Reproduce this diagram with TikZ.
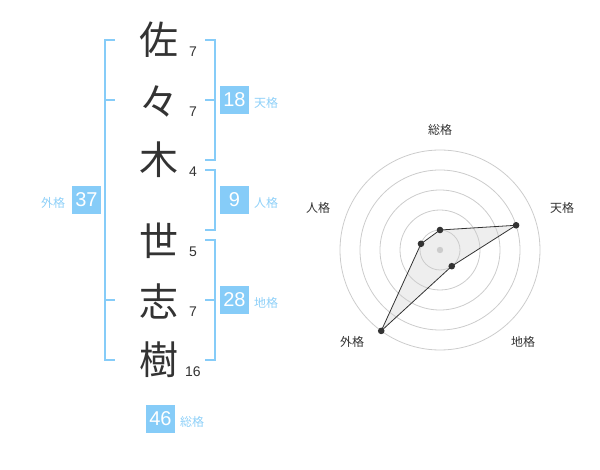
\documentclass[tikz,border=0pt]{standalone}
\usepackage{fontspec}
\setmainfont{Liberation Sans}
\newfontfamily\jp{Noto Sans CJK JP}
\definecolor{kaku}{HTML}{86CCF8}
\definecolor{kakumoji}{HTML}{8ED0F8}
\definecolor{sumi}{HTML}{333333}
\definecolor{wa}{HTML}{CCCCCC}
\definecolor{nuri}{HTML}{EEEEEE}

\begin{document}
\begin{tikzpicture}[
				x=1pt,y=-1pt,
				every node/.style={inner sep=0pt},
				moji/.style={font=\jp\fontsize{39}{39}\selectfont, text=sumi},
				kakusu/.style={font=\fontsize{14}{14}\selectfont, text=sumi},
				kakubox/.style={fill=kaku, text=white, minimum width=29pt, minimum height=28pt, font=\fontsize{20}{20}\selectfont},
				kakumei/.style={font=\jp\fontsize{12}{12}\selectfont, text=kakumoji},
				kakko/.style={draw=kaku, line width=2pt},
				ten/.style={circle, fill=sumi, minimum size=6.6pt},
			]
			\useasboundingbox (0,0) rectangle (600,470);

			\node[moji] (sa) at (159,40) {佐};
			\node[moji] (noma) at (159,101) {々};
			\node[moji] (ki) at (159,160) {木};
			\node[moji] (se) at (159,241) {世};
			\node[moji] (shi) at (159,301) {志};
			\node[moji] (ju) at (159,360) {樹};

			\node[kakusu] (sa-n) at (193,52) {7};
			\node[kakusu] (noma-n) at (193,112) {7};
			\node[kakusu] (ki-n) at (193,172) {4};
			\node[kakusu] (se-n) at (193,252) {5};
			\node[kakusu] (shi-n) at (193,312) {7};
			\node[kakusu] (ju-n) at (193,372) {16};

			\draw[kakko] (115,40) -- (105,40) -- (105,360) -- (115,360);
			\draw[kakko] (105,100) -- (115,100);
			\draw[kakko] (105,300) -- (115,300);
			\draw[kakko] (205,40) -- (215,40) -- (215,160) -- (205,160);
			\draw[kakko] (205,100) -- (215,100);
			\draw[kakko] (205,170) -- (215,170) -- (215,230) -- (205,230);
			\draw[kakko] (205,240) -- (215,240) -- (215,360) -- (205,360);
			\draw[kakko] (205,300) -- (215,300);

			\node[kakubox] (gaikaku) at (86.5,200) {37};
			\node[kakumei] (gaikaku-l) at (53,203) {外格};
			\node[kakubox] (tenkaku) at (234.5,100) {18};
			\node[kakumei] (tenkaku-l) at (266,103) {天格};
			\node[kakubox] (jinkaku) at (234.5,200) {9};
			\node[kakumei] (jinkaku-l) at (266,203) {人格};
			\node[kakubox] (chikaku) at (234.5,300) {28};
			\node[kakumei] (chikaku-l) at (266,303) {地格};
			\node[kakubox] (soukaku) at (160.5,419) {46};
			\node[kakumei] (soukaku-l) at (192,422) {総格};

			\begin{scope}[shift={(440,250)}, yscale=-1]
				\coordinate (r-sou) at (90:20);
				\coordinate (r-ten) at (18:80);
				\coordinate (r-chi) at (-54:20);
				\coordinate (r-gai) at (-126:100);
				\coordinate (r-jin) at (162:20);
				\fill[nuri] (r-sou) -- (r-ten) -- (r-chi) -- (r-gai) -- (r-jin) -- cycle;
				\foreach \r in {20,40,...,100}
					\draw[wa, line width=0.8pt] (0,0) circle (\r);
				\fill[wa] (0,0) circle (3.2);
				\draw[sumi, line width=0.8pt] (r-sou) -- (r-ten) -- (r-chi) -- (r-gai) -- (r-jin) -- cycle;
				\foreach \p in {sou,ten,chi,gai,jin}
					\node[ten] (d-\p) at (r-\p) {};
			\end{scope}

			\node[kakumei, text=sumi] (l-sou) at (440,130) {総格};
			\node[kakumei, text=sumi] (l-ten) at (562,208) {天格};
			\node[kakumei, text=sumi] (l-chi) at (523,342) {地格};
			\node[kakumei, text=sumi] (l-gai) at (352,342) {外格};
			\node[kakumei, text=sumi] (l-jin) at (318,208) {人格};

		\end{tikzpicture}
\end{document}
